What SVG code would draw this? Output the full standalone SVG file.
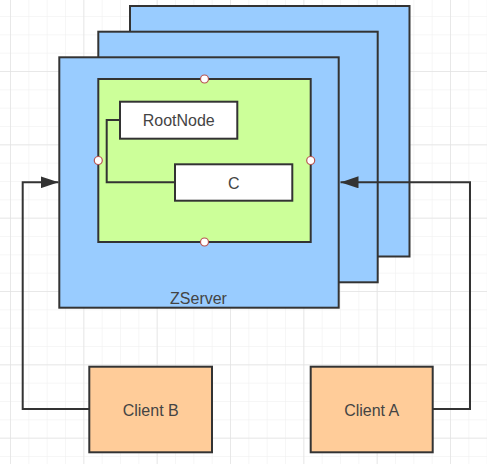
<svg xmlns="http://www.w3.org/2000/svg" width="487" height="464" viewBox="0 0 487 464">
  <defs>
    <pattern id="minor" patternUnits="userSpaceOnUse" x="10" y="-2.33" width="18.333" height="18.333">
      <path d="M0,0 H18.333 M0,0 V18.333" stroke="#eeeeee" stroke-width="1" fill="none"/>
    </pattern>
    <pattern id="major" patternUnits="userSpaceOnUse" x="10" y="-2.33" width="73.333" height="73.333">
      <path d="M0,0 H73.333 M0,0 V73.333" stroke="#e3e3e3" stroke-width="1.5" fill="none"/>
    </pattern>
    <marker id="arrow" markerUnits="userSpaceOnUse" markerWidth="18" markerHeight="12" refX="18" refY="6" orient="auto">
      <path d="M0,0 L18,6 L0,12 z" fill="#333333"/>
    </marker>
    <style>
      .panel { fill: #99ccff; stroke: #333333; stroke-width: 2; }
      .green { fill: #ccff99; stroke: #333333; stroke-width: 2; }
      .white { fill: #ffffff; stroke: #333333; stroke-width: 2; }
      .client { fill: #ffcc99; stroke: #333333; stroke-width: 2; }
      .dot { fill: #ffffff; stroke: #b85450; stroke-width: 1.2; }
      .conn { fill: none; stroke: #333333; stroke-width: 2; }
      .lbl { font-family: "Liberation Sans", Arial, sans-serif; font-size: 16px; fill: #444444; text-anchor: middle; dominant-baseline: central; }
    </style>
  </defs>
  <rect width="487" height="464" fill="#ffffff"/>
  <rect width="487" height="464" fill="url(#minor)"/>
  <rect width="487" height="464" fill="url(#major)"/>

  <g id="zserver-back">
    <rect class="panel" x="130" y="6" width="279.5" height="250.5"/>
  </g>
  <g id="zserver-middle">
    <rect class="panel" x="98.3" y="31.7" width="279.4" height="250.6"/>
  </g>
  <g id="zserver">
    <rect class="panel" x="59.3" y="57.3" width="279.4" height="250.4"/>
    <text class="lbl" x="198.5" y="298">ZServer</text>
  </g>
  <g id="container">
    <rect class="green" x="98.3" y="79" width="212.4" height="163"/>
    <circle class="dot" cx="204.5" cy="79" r="4"/>
    <circle class="dot" cx="98.3" cy="160.5" r="4"/>
    <circle class="dot" cx="310.7" cy="160.5" r="4"/>
    <circle class="dot" cx="204.5" cy="242" r="4"/>
  </g>
  <g id="rootnode">
    <rect class="white" x="120" y="101.7" width="117.3" height="37"/>
    <text class="lbl" x="178.7" y="120.5">RootNode</text>
  </g>
  <g id="c">
    <rect class="white" x="175" y="164.3" width="117.3" height="36.4"/>
    <text class="lbl" x="233.7" y="183">C</text>
  </g>
  <g id="client-b">
    <rect class="client" x="89.3" y="366.7" width="122.7" height="85.6"/>
    <text class="lbl" x="150.7" y="410">Client B</text>
  </g>
  <g id="client-a">
    <rect class="client" x="310.7" y="366.7" width="122" height="85.6"/>
    <text class="lbl" x="371.7" y="410">Client A</text>
  </g>

  <g id="connectors">
    <path class="conn" d="M120,120 H106.7 V182.3 H175"/>
    <path class="conn" d="M89.3,409 H22.7 V182.3 H58.5" marker-end="url(#arrow)"/>
    <path class="conn" d="M432.7,409 H470 V182.3 H340.5" marker-end="url(#arrow)"/>
  </g>
</svg>
